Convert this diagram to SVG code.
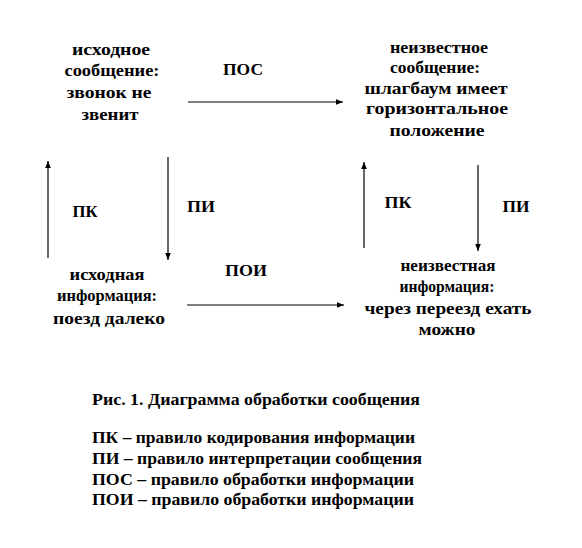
<svg xmlns="http://www.w3.org/2000/svg" width="582" height="548" viewBox="0 0 582 548">
<defs>
<marker id="ah" viewBox="0 0 10 10" refX="10" refY="5" markerWidth="7" markerHeight="7" markerUnits="userSpaceOnUse" orient="auto"><path d="M0,1 L10,5 L0,9 Z" fill="#000"/></marker>
</defs>
<style>
text{font-family:"Liberation Serif","Times New Roman",serif;font-size:17px;font-weight:bold;fill:#000}
.c{text-anchor:middle}
line{stroke:#000;stroke-width:1.2;marker-end:url(#ah)}
</style>
<rect width="582" height="548" fill="#fff"/>
<g id="n1">
<text x="111" y="55" class="c" textLength="78" lengthAdjust="spacingAndGlyphs">исходное</text>
<text x="112" y="76" class="c" textLength="95" lengthAdjust="spacingAndGlyphs">сообщение:</text>
<text x="109" y="98" class="c" textLength="85" lengthAdjust="spacingAndGlyphs">звонок не</text>
<text x="110" y="120" class="c" textLength="57" lengthAdjust="spacingAndGlyphs">звенит</text>
</g>
<g id="n2">
<text x="439" y="53" class="c" textLength="98" lengthAdjust="spacingAndGlyphs">неизвестное</text>
<text x="435" y="73" class="c" textLength="90" lengthAdjust="spacingAndGlyphs">сообщение:</text>
<text x="436" y="94" class="c" textLength="143" lengthAdjust="spacingAndGlyphs">шлагбаум имеет</text>
<text x="437" y="114" class="c" textLength="142" lengthAdjust="spacingAndGlyphs">горизонтальное</text>
<text x="437" y="136" class="c" textLength="95" lengthAdjust="spacingAndGlyphs">положение</text>
</g>
<g id="n3">
<text x="107" y="280" class="c" textLength="75" lengthAdjust="spacingAndGlyphs">исходная</text>
<text x="107" y="301" class="c" textLength="100" lengthAdjust="spacingAndGlyphs">информация:</text>
<text x="109" y="324" class="c" textLength="112" lengthAdjust="spacingAndGlyphs">поезд далеко</text>
</g>
<g id="n4">
<text x="448" y="271" class="c" textLength="95" lengthAdjust="spacingAndGlyphs">неизвестная</text>
<text x="447" y="292" class="c" textLength="95" lengthAdjust="spacingAndGlyphs">информация:</text>
<text x="448" y="314" class="c" textLength="167" lengthAdjust="spacingAndGlyphs">через переезд ехать</text>
<text x="447" y="335" class="c" textLength="57" lengthAdjust="spacingAndGlyphs">можно</text>
</g>
<g id="connectors">
<line x1="188" y1="102" x2="343" y2="102"/>
<line x1="187" y1="305" x2="344" y2="305"/>
<line x1="48" y1="258" x2="48" y2="161"/>
<line x1="168" y1="157" x2="168" y2="260"/>
<line x1="364" y1="248" x2="364" y2="162"/>
<line x1="478" y1="165" x2="478" y2="251"/>
<text x="243" y="75" class="c" textLength="40" lengthAdjust="spacingAndGlyphs">ПОС</text>
<text x="246" y="276" class="c" textLength="42" lengthAdjust="spacingAndGlyphs">ПОИ</text>
<text x="85" y="217" class="c" textLength="25" lengthAdjust="spacingAndGlyphs">ПК</text>
<text x="201" y="212" class="c" textLength="28" lengthAdjust="spacingAndGlyphs">ПИ</text>
<text x="398" y="208" class="c" textLength="27" lengthAdjust="spacingAndGlyphs">ПК</text>
<text x="516" y="212" class="c" textLength="27" lengthAdjust="spacingAndGlyphs">ПИ</text>
</g>
<g id="caption">
<text x="92" y="405" textLength="328" lengthAdjust="spacingAndGlyphs">Рис. 1.  Диаграмма обработки сообщения</text>
<text x="92" y="443" textLength="323" lengthAdjust="spacingAndGlyphs">ПК – правило кодирования информации</text>
<text x="92" y="464" textLength="330" lengthAdjust="spacingAndGlyphs">ПИ – правило интерпретации  сообщения</text>
<text x="92" y="485" textLength="322" lengthAdjust="spacingAndGlyphs">ПОС – правило обработки информации</text>
<text x="92" y="505" textLength="322" lengthAdjust="spacingAndGlyphs">ПОИ – правило обработки информации</text>
</g>
</svg>
